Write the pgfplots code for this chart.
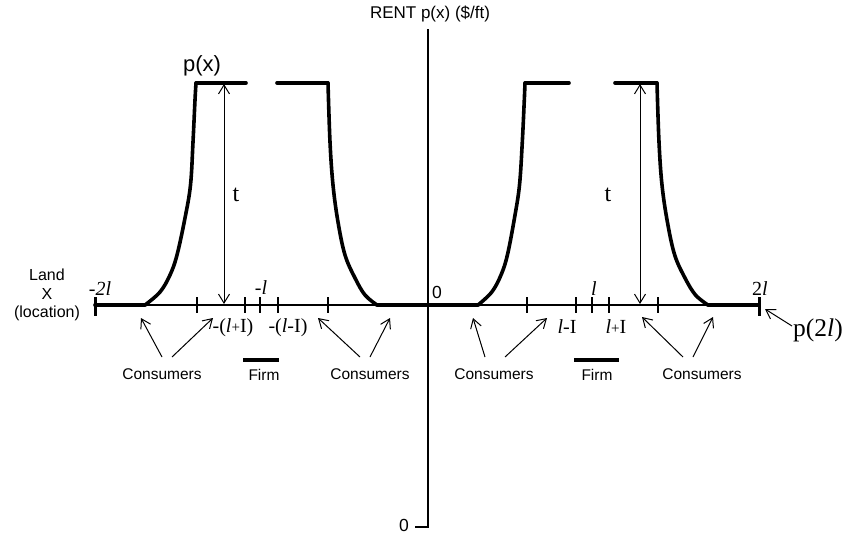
\documentclass[border=0pt]{standalone}
\usepackage{pgfplots}
\pgfplotsset{compat=1.18}
\usepackage{fontspec}
\setmainfont{Liberation Sans}
\newfontfamily\tnr{Liberation Serif}
\usetikzlibrary{arrows.meta}
\newcommand{\fs}[1]{\fontsize{#1}{#1}\selectfont}
\begin{document}
\begin{tikzpicture}
\begin{axis}[width=847pt,height=536pt,scale only axis,hide axis,clip=false,
  xmin=0,xmax=847,ymin=0,ymax=536,y dir=reverse,
  every axis plot/.append style={line width=3.6pt,black,line cap=round,line join=miter}]
\coordinate (bl) at (axis cs:0,536);
\coordinate (tr) at (axis cs:847,0);
% thin horizontal axis
\draw[line width=1.2pt] (axis cs:95,305) -- (axis cs:758,305);
% vertical axis
\draw[line width=1.2pt] (axis cs:428,29) -- (axis cs:428,527) -- (axis cs:415,527);
% p(x)
\addplot[sharp plot] coordinates {(95,305)(145,305)};
\addplot[smooth,tension=0.6] coordinates {(145,305)(160,292)(170,275)(177,255)(185,218)(190.5,185)(193,142)(195,100)(196,83)};
\addplot[sharp plot] coordinates {(196,83)(246,83)};
\addplot[sharp plot] coordinates {(277,83)(328,83)};
\addplot[smooth,tension=0.6] coordinates {(328,83)(330,142)(333,185)(338,222)(345,255)(355,278)(365,295)(377,305)};
\addplot[sharp plot] coordinates {(377,305)(478,305)};
\addplot[smooth,tension=0.6] coordinates {(478,305)(491.8,292)(501,275)(507.4,255)(514.5,218)(519.5,185)(522.3,142)(524.3,100)(525,83)};
\addplot[sharp plot] coordinates {(525,83)(569,83)};
\addplot[sharp plot] coordinates {(615,83)(657,83)};
\addplot[smooth,tension=0.6] coordinates {(657,83)(659,142)(662,185)(667.4,222)(674.7,255)(685,278)(695.5,295)(708,305)};
\addplot[sharp plot] coordinates {(708,305)(758,305)};
% firm bars
\addplot[sharp plot,line cap=butt] coordinates {(243,360)(279,360)};
\addplot[sharp plot,line cap=butt] coordinates {(574,360)(619,360)};
% ticks
\pgfplotsinvokeforeach{197,245,260,278,328,527,576,592,609,658}{
  \draw[line width=1.4pt] (axis cs:#1,297) -- (axis cs:#1,313);}
\draw[line width=3pt] (axis cs:95,297) -- (axis cs:95,316);
\draw[line width=3pt] (axis cs:759,297) -- (axis cs:759,316);
% t arrows
\draw[line width=1pt,{Straight Barb[length=9pt,width=11pt]}-{Straight Barb[length=9pt,width=11pt]}] (axis cs:224,84) -- (axis cs:224,304);
\draw[line width=1pt,{Straight Barb[length=9pt,width=11pt]}-{Straight Barb[length=9pt,width=11pt]}] (axis cs:640,84) -- (axis cs:640,304);
% consumer arrows
\tikzset{carr/.style={line width=1pt,-{Straight Barb[length=9pt,width=11pt]}}}
\draw[carr] (axis cs:162,357) -- (axis cs:141,318);
\draw[carr] (axis cs:172,357) -- (axis cs:213,318);
\draw[carr] (axis cs:360,357) -- (axis cs:318,318);
\draw[carr] (axis cs:370,357) -- (axis cs:390,318);
\draw[carr] (axis cs:485,357) -- (axis cs:473,318);
\draw[carr] (axis cs:505,357) -- (axis cs:547,318);
\draw[carr] (axis cs:683,357) -- (axis cs:642,317);
\draw[carr] (axis cs:693,357) -- (axis cs:713,317);
\draw[carr] (axis cs:792,326) -- (axis cs:765,309);
% text
\node at (axis cs:430,14) {\fs{17}RENT p(x) (\$/ft)};
\node at (axis cs:404,525) {\fs{17.5}0};
\node at (axis cs:437,292) {\fs{17.5}0};
\node at (axis cs:202,66) {\fs{22}p(x)};
\node at (axis cs:236,195) {\tnr\fs{24}t};
\node at (axis cs:608,195) {\tnr\fs{24}t};
\node[align=center,font=\fs{16}] at (axis cs:47,295) {Land\\[2.5pt]X\\[2pt](location)};
\node at (axis cs:100,289) {\tnr\itshape\fs{20}-2l};
\node at (axis cs:261,288) {\tnr\itshape\fs{20}-l};
\node at (axis cs:594,289) {\tnr\itshape\fs{20}l};
\node at (axis cs:760,289) {\tnr\fs{20}2\textit{l}};
\node at (axis cs:233,328) {\tnr\fs{20}-(\textit{l}{\fs{15}+}I)};
\node at (axis cs:288,328) {\tnr\fs{20}-(\textit{l}-I)};
\node at (axis cs:567,327) {\tnr\fs{20}\textit{l}-I};
\node at (axis cs:616,327) {\tnr\fs{20}\textit{l}{\fs{15}+}I};
\node at (axis cs:818,330) {\tnr\fs{25.5}p(2\textit{l})};
\node at (axis cs:162,374) {\fs{15.5}Consumers};
\node at (axis cs:370,374) {\fs{15.5}Consumers};
\node at (axis cs:494,374) {\fs{15.5}Consumers};
\node at (axis cs:702,374) {\fs{15.5}Consumers};
\node at (axis cs:264,375) {\fs{15.5}Firm};
\node at (axis cs:597,375) {\fs{15.5}Firm};
\end{axis}
\pgfresetboundingbox
\path[use as bounding box] (bl) rectangle (tr);
\end{tikzpicture}
\end{document}
